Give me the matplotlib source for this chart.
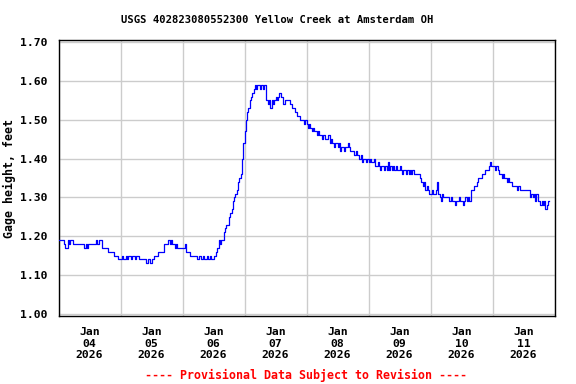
import numpy as np
import matplotlib
matplotlib.use("Agg")
import matplotlib.pyplot as plt
import matplotlib.dates as mdates
import datetime as dt

title = "USGS 402823080552300 Yellow Creek at Amsterdam OH"
ylabel = "Gage height, feet"
footer = "---- Provisional Data Subject to Revision ----"
start = dt.datetime(2026, 1, 4)
end = dt.datetime(2026, 1, 12)
step_minutes = 30
yticks = [1.00, 1.10, 1.20, 1.30, 1.40, 1.50, 1.60, 1.70]

# half-hourly gage height, one list per day
jan04 = [1.19, 1.19, 1.19, 1.19, 1.18, 1.17, 1.17, 1.19, 1.18, 1.19, 1.19, 1.18,
         1.18, 1.18, 1.18, 1.18, 1.18, 1.18, 1.18, 1.18, 1.17, 1.18, 1.17, 1.18,
         1.18, 1.18, 1.18, 1.18, 1.18, 1.19, 1.18, 1.19, 1.19, 1.19, 1.17, 1.17,
         1.17, 1.17, 1.16, 1.16, 1.16, 1.16, 1.16, 1.15, 1.15, 1.15, 1.14, 1.14]
jan05 = [1.14, 1.15, 1.14, 1.14, 1.15, 1.14, 1.15, 1.15, 1.14, 1.15, 1.15, 1.14,
         1.15, 1.15, 1.14, 1.14, 1.14, 1.14, 1.14, 1.14, 1.13, 1.14, 1.14, 1.13,
         1.14, 1.14, 1.15, 1.15, 1.15, 1.16, 1.16, 1.16, 1.16, 1.16, 1.18, 1.18,
         1.18, 1.19, 1.18, 1.19, 1.18, 1.18, 1.17, 1.18, 1.17, 1.17, 1.17, 1.17]
jan06 = [1.17, 1.17, 1.18, 1.16, 1.16, 1.16, 1.15, 1.15, 1.15, 1.15, 1.15, 1.14,
         1.14, 1.15, 1.14, 1.14, 1.15, 1.14, 1.14, 1.15, 1.14, 1.15, 1.14, 1.14,
         1.15, 1.15, 1.16, 1.17, 1.19, 1.18, 1.19, 1.19, 1.21, 1.22, 1.23, 1.23,
         1.25, 1.26, 1.27, 1.29, 1.30, 1.31, 1.32, 1.34, 1.35, 1.36, 1.40, 1.44]
jan07 = [1.47, 1.50, 1.52, 1.53, 1.55, 1.56, 1.57, 1.58, 1.59, 1.58, 1.59, 1.59,
         1.58, 1.59, 1.58, 1.59, 1.59, 1.55, 1.54, 1.55, 1.53, 1.55, 1.54, 1.55,
         1.56, 1.55, 1.56, 1.57, 1.56, 1.56, 1.54, 1.55, 1.55, 1.55, 1.55, 1.54,
         1.54, 1.53, 1.53, 1.52, 1.52, 1.51, 1.51, 1.50, 1.50, 1.50, 1.49, 1.50]
jan08 = [1.49, 1.48, 1.49, 1.48, 1.47, 1.48, 1.47, 1.47, 1.46, 1.47, 1.46, 1.46,
         1.45, 1.46, 1.45, 1.45, 1.45, 1.46, 1.44, 1.45, 1.44, 1.43, 1.44, 1.44,
         1.43, 1.44, 1.42, 1.43, 1.43, 1.42, 1.43, 1.43, 1.44, 1.43, 1.42, 1.42,
         1.42, 1.41, 1.42, 1.41, 1.41, 1.40, 1.41, 1.39, 1.40, 1.40, 1.39, 1.40]
jan09 = [1.39, 1.40, 1.39, 1.39, 1.40, 1.38, 1.38, 1.39, 1.38, 1.37, 1.38, 1.38,
         1.37, 1.38, 1.37, 1.39, 1.37, 1.38, 1.37, 1.38, 1.37, 1.38, 1.37, 1.37,
         1.38, 1.37, 1.36, 1.37, 1.37, 1.36, 1.37, 1.36, 1.37, 1.36, 1.37, 1.36,
         1.36, 1.36, 1.36, 1.36, 1.35, 1.34, 1.33, 1.34, 1.32, 1.33, 1.32, 1.31]
jan10 = [1.31, 1.32, 1.31, 1.31, 1.32, 1.34, 1.31, 1.30, 1.29, 1.31, 1.30, 1.30,
         1.30, 1.30, 1.29, 1.29, 1.30, 1.29, 1.29, 1.28, 1.29, 1.29, 1.30, 1.29,
         1.29, 1.28, 1.29, 1.30, 1.29, 1.30, 1.29, 1.32, 1.32, 1.32, 1.33, 1.33,
         1.34, 1.35, 1.35, 1.35, 1.36, 1.36, 1.37, 1.37, 1.37, 1.38, 1.39, 1.38]
jan11 = [1.38, 1.38, 1.37, 1.38, 1.37, 1.36, 1.36, 1.35, 1.36, 1.35, 1.35, 1.34,
         1.35, 1.34, 1.34, 1.33, 1.33, 1.33, 1.33, 1.32, 1.33, 1.32, 1.32, 1.32,
         1.32, 1.32, 1.32, 1.32, 1.32, 1.30, 1.31, 1.30, 1.31, 1.29, 1.31, 1.29,
         1.29, 1.28, 1.29, 1.28, 1.29, 1.27, 1.28, 1.29, 1.29]

values = jan04 + jan05 + jan06 + jan07 + jan08 + jan09 + jan10 + jan11
times = [start + dt.timedelta(minutes=step_minutes * i) for i in range(len(values))]

mono = ["DejaVu Sans Mono"]

fig = plt.figure(figsize=(5.76, 3.84), dpi=100)
ax = fig.add_axes([0.1016, 0.1771, 0.8611, 0.7187])

ax.plot(times, values, color="#0000ff", linewidth=0.9, drawstyle="steps-post", zorder=3)

ax.set_xlim(start, end)
ax.set_ylim(0.994, 1.706)

ax.set_yticks(yticks)
ax.set_yticklabels([f"{v:.2f}" for v in yticks], fontfamily=mono, fontweight="bold", fontsize=8.2)

days = [start + dt.timedelta(days=d) for d in range(9)]
noons = [start + dt.timedelta(days=d, hours=12) for d in range(8)]
ax.set_xticks(days)
ax.set_xticklabels([""] * len(days))
ax.set_xticks(noons, minor=True)
ax.set_xticklabels([d.strftime("%b\n%d\n%Y") for d in noons], minor=True,
                   fontfamily=mono, fontweight="bold", fontsize=8.2, linespacing=1.2)

ax.tick_params(axis="both", which="both", length=0)
ax.tick_params(axis="y", pad=8)
ax.tick_params(axis="x", which="minor", pad=8)

ax.grid(True, which="major", color="#cccccc", linewidth=1.0, zorder=0)
ax.set_axisbelow(True)
for s in ax.spines.values():
    s.set_color("black")
    s.set_linewidth(1.0)

ax.set_ylabel(ylabel, fontfamily=mono, fontweight="bold", fontsize=8.4)
ax.yaxis.set_label_coords(-0.085, 0.5)
fig.text(0.4818, 0.948, title, ha="center", va="center", fontfamily=mono,
         fontweight="bold", fontsize=7.6)
fig.text(0.5304, 0.023, footer, ha="center", va="center", fontfamily=mono,
         fontweight="bold", fontsize=8.4, color="#ff0000")

fig.savefig("out.png", dpi=100)
